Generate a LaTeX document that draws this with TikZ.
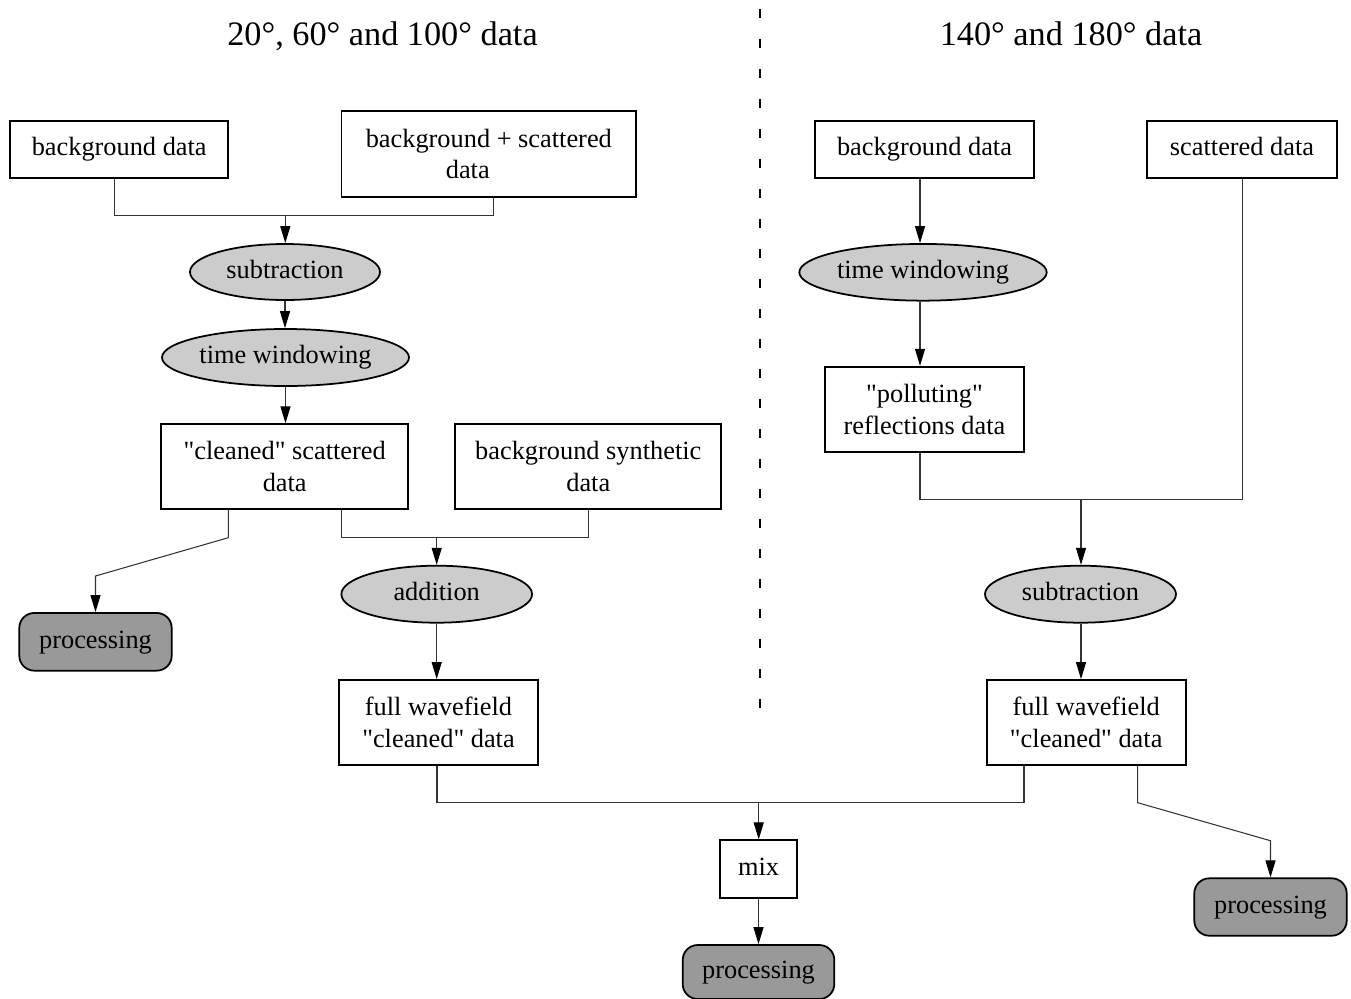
\documentclass[tikz,border=0pt]{standalone}
\usepackage{fontspec}
\setmainfont{Liberation Serif}[Ligatures=TeXOff]
\usetikzlibrary{arrows.meta,shapes.geometric}
\definecolor{ovalgray}{HTML}{CCCCCC}
\definecolor{procgray}{HTML}{999999}
\begin{document}
\begin{tikzpicture}[x=0.02cm,y=-0.02cm,
  font=\fontsize{15}{18}\selectfont,
  base/.style={line width=1pt, inner sep=0pt, align=center},
  rbox/.style={base, draw, rectangle},
  oval/.style={base, draw, ellipse, fill=ovalgray, oneline},
  proc/.style={base, draw, rectangle, rounded corners=0.3cm, fill=procgray, oneline},
  oneline/.style={text height=10.5pt, text depth=3.3pt},
  bw/.style={minimum width=#1*0.02cm},
  bh/.style={minimum height=#1*0.02cm},
  conn/.style={line width=0.6pt, draw=black!80},
  arr/.style={conn, -{Triangle[length=0.34cm,width=0.2cm,color=black]}},
  title/.style={anchor=base, font=\fontsize{19.5}{23}\selectfont},
  divider/.style={line width=1.1pt, dash pattern=on 0.18cm off 0.42cm}
]
\useasboundingbox (0,0) rectangle (1351,998);

% titles and divider
\node[title] (t1) at (382.5,45.7) {20°, 60° and 100° data};
\node[title] (t2) at (1071,45.7) {140° and 180° data};
\coordinate (dtop) at (760,9);
\coordinate (dbot) at (760,722);
\draw[divider] (dtop) -- (dbot);

% left column
\node[rbox,oneline,bw=218,bh=57] (bg1) at (119.2,149.5) {background data};
\node[rbox,bw=294.5,bh=85.5] (bgs) at (488.8,154) {background + scattered\\ data\hspace*{0.84cm}};
\node[oval,bw=190,bh=56] (sub1) at (285,272) {subtraction};
\node[oval,bw=247,bh=57] (tw1) at (285.5,357.5) {time windowing};
\node[rbox,bw=247,bh=85] (clean) at (284.7,466.7) {"cleaned" scattered\\ data};
\node[rbox,bw=266,bh=85] (bsyn) at (588.3,466.7) {background synthetic\\ data};
\node[oval,bw=190.7,bh=57] (add) at (436.7,594.2) {addition};
\node[proc,bw=152.4,bh=57.7] (proc1) at (95.5,641.8) {processing};
\node[rbox,bw=199,bh=85] (full1) at (438.5,722.5) {full wavefield\\ "cleaned" data};

% bottom
\node[rbox,oneline,bw=76.4,bh=57.4] (mix) at (758.5,869) {mix};
\node[proc,bw=151.6,bh=54] (proc3) at (758.5,972) {processing};

% right column
\node[rbox,oneline,bw=219,bh=57] (bg2) at (924.5,149.5) {background data};
\node[rbox,oneline,bw=190.6,bh=57] (scat) at (1242,149.5) {scattered data};
\node[oval,bw=247.4,bh=56.7] (tw2) at (923,272.3) {time windowing};
\node[rbox,bw=199,bh=85.6] (poll) at (924.5,409.5) {"polluting"\\ reflections data};
\node[oval,bw=191,bh=57] (sub2) at (1080.5,594.2) {subtraction};
\node[rbox,bw=199,bh=85] (full2) at (1086.2,722.5) {full wavefield\\ "cleaned" data};
\node[proc,bw=152.4,bh=57.4] (proc2) at (1270.5,907) {processing};

% junction coordinates
\coordinate (j1L) at (114.3,215.7);
\coordinate (j1R) at (493.3,215.7);
\coordinate (j1) at (285.3,215.7);
\coordinate (j2L) at (341.7,537.3);
\coordinate (j2R) at (588.3,537.3);
\coordinate (j2) at (436.7,537.3);
\coordinate (p1a) at (228.3,537.7);
\coordinate (p1b) at (95.5,576);
\coordinate (j3L) at (437,802.7);
\coordinate (j3R) at (1024,802.7);
\coordinate (j3) at (758.7,802.7);
\coordinate (p2a) at (1137.7,802.7);
\coordinate (p2b) at (1270.5,840.7);
\coordinate (c920) at (920,0);
\coordinate (j4L) at (920,499.3);
\coordinate (j4R) at (1242.3,499.3);
\coordinate (j4) at (1081,499.3);

% left connectors
\draw[conn] (bg1.south -| j1L) -- (j1L) -- (j1R) -- (bgs.south -| j1R);
\draw[arr] (j1) -- (j1 |- sub1.north);
\draw[arr] (sub1.south) -- (sub1.south |- tw1.north);
\draw[arr] (tw1.south) -- (tw1.south |- clean.north);
\draw[conn] (clean.south -| j2L) -- (j2L) -- (j2R) -- (bsyn.south -| j2R);
\draw[arr] (j2) -- (j2 |- add.north);
\draw[arr] (clean.south -| p1a) -- (p1a) -- (p1b) -- (proc1.north);
\draw[arr] (add.south) -- (add.south |- full1.north);

% bottom connectors
\draw[conn] (full1.south -| j3L) -- (j3L) -- (j3R) -- (full2.south -| j3R);
\draw[arr] (j3) -- (j3 |- mix.north);
\draw[arr] (mix.south) -- (mix.south |- proc3.north);
\draw[arr] (full2.south -| p2a) -- (p2a) -- (p2b) -- (proc2.north);

% right connectors
\draw[arr] (bg2.south -| c920) -- (tw2.north -| c920);
\draw[arr] (tw2.south -| c920) -- (poll.north -| c920);
\draw[conn] (poll.south -| j4L) -- (j4L) -- (j4R) -- (scat.south -| j4R);
\draw[arr] (j4) -- (sub2.north -| j4);
\draw[arr] (sub2.south -| j4) -- (full2.north -| j4);
\end{tikzpicture}
\end{document}
